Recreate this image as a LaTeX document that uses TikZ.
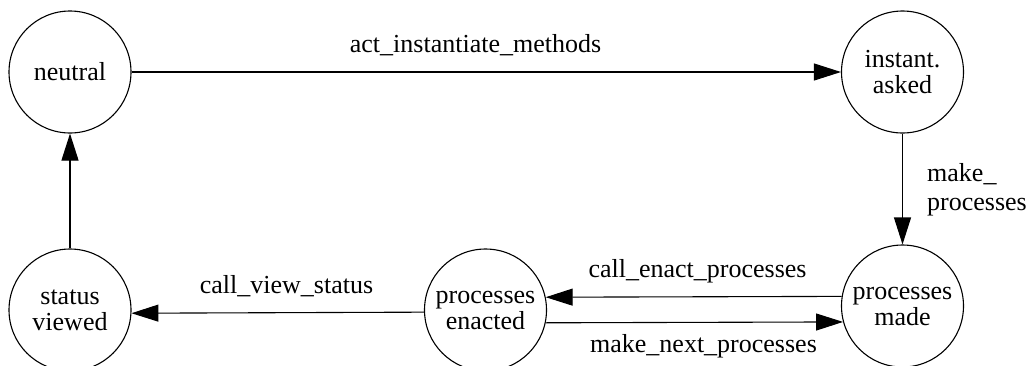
\documentclass[tikz,border=0pt]{standalone}
\usepackage{fontspec}
\setmainfont{Liberation Serif}
\usetikzlibrary{arrows.meta}
\begin{document}
\begin{tikzpicture}[x=1pt,y=-1pt,
  state/.style={draw,circle,minimum size=122pt,inner sep=0pt,align=center,line width=1.1pt,
    font=\fontsize{26}{26}\selectfont},
  edge/.style={line width=1.1pt,-{Triangle[length=27pt,width=17pt]}},
  lbl/.style={anchor=base,inner sep=0pt,font=\fontsize{26}{29}\selectfont}]
\useasboundingbox (0,0) rectangle (1028,365);
\node[state] (neutral) at (70,72) {neutral};
\node[state] (inst) at (902.5,72) {instant.\\asked};
\node[state] (made) at (902.5,306) {processes\\made};
\node[state] (enacted) at (485.5,310) {processes\\enacted};
\node[state] (status) at (70,310) {status\\viewed};

\draw[edge] (neutral.east) -- (inst.west);
\draw[edge] (inst.south) -- (made.north);
\draw[edge] (made.171.2) -- (enacted.12.6);
\draw[edge] (enacted.348.0) -- (made.195.9);
\draw[edge] (enacted.182.35) -- (status.357.65);
\draw[edge] (status.north) -- (neutral.south);

\node[lbl] (l1) at (475.5,52) {act\_instantiate\_methods};
\node[lbl,anchor=base west,align=left] (l2) at (927,210) {make\_\\processes};
\node[lbl] (l3) at (697.5,277) {call\_enact\_processes};
\node[lbl] (l4) at (703.5,352) {make\_next\_processes};
\node[lbl] (l5) at (286.5,293) {call\_view\_status};
\end{tikzpicture}
\end{document}
